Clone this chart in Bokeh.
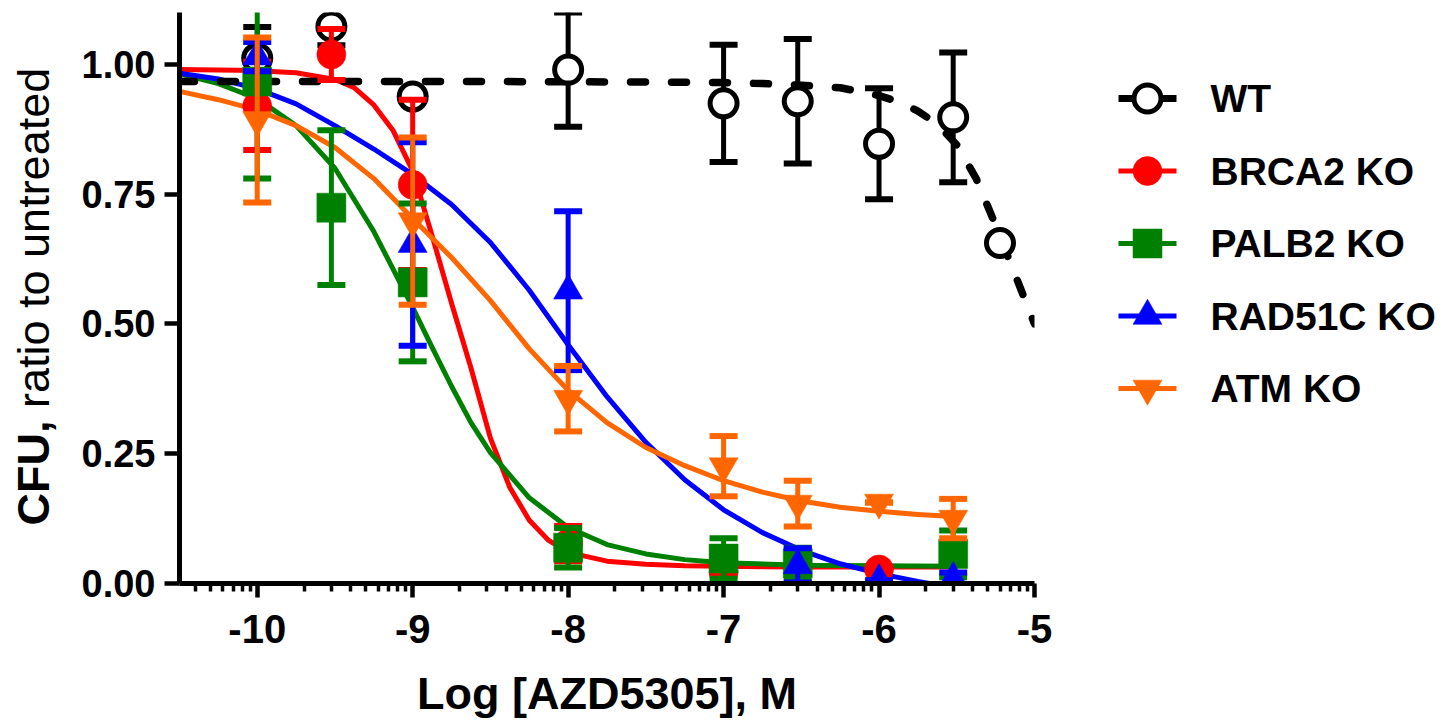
import numpy as np
from bokeh.plotting import figure
from bokeh.layouts import row
from bokeh.models import Range1d, FixedTicker, PrintfTickFormatter
from bokeh.core.properties import value
from bokeh.embed import file_html
from bokeh.resources import INLINE

# ---------------- data (log10 molar concentration) ----------------
series_names = ["WT", "BRCA2 KO", "PALB2 KO", "RAD51C KO", "ATM KO"]

wt_x = [-10.0, -9.523, -9.0, -8.0, -7.0, -6.523, -6.0, -5.523, -5.222]
wt_y = [1.012, 1.073, 0.938, 0.990, 0.925, 0.929, 0.847, 0.898, 0.656]
wt_err = [0.060, 0.036, 0.0, 0.110, 0.113, 0.120, 0.107, 0.125, 0.0]

brca2_x = [-10.0, -9.523, -9.0, -8.0, -7.0, -6.0]
brca2_y = [0.920, 1.019, 0.768, 0.077, 0.021, 0.027]
brca2_err = [0.085, 0.049, 0.164, 0.034, 0.0, 0.0]

palb2_x = [-10.0, -9.523, -9.0, -8.0, -7.0, -6.523, -5.523]
palb2_y = [0.967, 0.724, 0.580, 0.069, 0.048, 0.039, 0.057]
palb2_err = [0.187, 0.149, 0.152, 0.038, 0.039, 0.030, 0.045]

rad51c_x = [-10.0, -9.0, -8.0, -6.523, -6.0, -5.523]
rad51c_y = [1.015, 0.654, 0.564, 0.035, 0.006, 0.010]
rad51c_err = [0.028, 0.196, 0.153, 0.033, 0.0, 0.011]

atm_x = [-10.0, -9.0, -8.0, -7.0, -6.523, -6.0, -5.523]
atm_y = [0.893, 0.698, 0.356, 0.226, 0.154, 0.156, 0.125]
atm_err = [0.159, 0.161, 0.063, 0.058, 0.044, 0.0, 0.038]

# fitted curves
wt_fit_x = [-10.5, -9.5, -8.5, -7.5, -7.0, -6.75, -6.5, -6.25, -6.0, -5.875, -5.75,
            -5.625, -5.5, -5.375, -5.25, -5.125, -5.0]
wt_fit_y = [0.967, 0.967, 0.967, 0.966, 0.965, 0.963, 0.960, 0.955, 0.940, 0.928, 0.910,
            0.885, 0.845, 0.780, 0.690, 0.595, 0.500]

brca2_fit_x = [-10.5, -10.0, -9.75, -9.5, -9.375, -9.25, -9.125, -9.0, -8.875, -8.75, -8.625,
               -8.5, -8.375, -8.25, -8.125, -8.0, -7.75, -7.5, -7.25, -7.0, -6.5, -6.0, -5.523]
brca2_fit_y = [0.990, 0.988, 0.984, 0.971, 0.955, 0.922, 0.872, 0.795, 0.670, 0.540, 0.415,
               0.280, 0.185, 0.122, 0.083, 0.060, 0.043, 0.037, 0.034, 0.033, 0.032, 0.032,
               0.032]

palb2_fit_x = [-10.5, -10.25, -10.0, -9.75, -9.5, -9.25, -9.0, -8.875, -8.75, -8.625, -8.5,
               -8.25, -8.0, -7.75, -7.5, -7.25, -7.0, -6.5, -6.0, -5.523]
palb2_fit_y = [0.982, 0.963, 0.934, 0.882, 0.800, 0.678, 0.532, 0.455, 0.380, 0.310, 0.252,
               0.165, 0.108, 0.075, 0.057, 0.046, 0.040, 0.035, 0.034, 0.033]

rad51c_fit_x = [-10.5, -10.25, -10.0, -9.75, -9.5, -9.25, -9.0, -8.75, -8.5, -8.25, -8.0,
                -7.75, -7.5, -7.25, -7.0, -6.75, -6.5, -6.25, -6.0, -5.75, -5.523]
rad51c_fit_y = [0.983, 0.972, 0.953, 0.924, 0.882, 0.837, 0.788, 0.730, 0.657, 0.565, 0.460,
                0.360, 0.272, 0.200, 0.142, 0.098, 0.064, 0.038, 0.019, 0.004, -0.008]

atm_fit_x = [-10.5, -10.25, -10.0, -9.75, -9.5, -9.25, -9.0, -8.75, -8.5, -8.25, -8.0,
             -7.75, -7.5, -7.25, -7.0, -6.75, -6.5, -6.25, -6.0, -5.75, -5.523]
atm_fit_y = [0.948, 0.932, 0.912, 0.882, 0.840, 0.780, 0.703, 0.628, 0.545, 0.452, 0.372,
             0.310, 0.262, 0.227, 0.198, 0.176, 0.159, 0.147, 0.139, 0.133, 0.129]

x_ticks = [-10, -9, -8, -7, -6, -5]
x_tick_labels = ["-10", "-9", "-8", "-7", "-6", "-5"]
y_ticks = [0.0, 0.25, 0.5, 0.75, 1.0]

colors = ["#000000", "#FF0000", "#008000", "#0000FF", "#FF6600"]
markers = ["circle", "circle", "square", "triangle", "inverted_triangle"]
FONT = "Liberation Sans"

# page geometry (pixels)
W, H = 1448, 722
FRAME_LEFT, FRAME_TOP, FRAME_BOTTOM = 179, 12, 583
LEFT_W = 78
MAIN_W = 1078 - LEFT_W
RIGHT_W = W - LEFT_W - MAIN_W
# side strips share the main frame's vertical extent; map it to page pixels (y up)
side_yr = (H - FRAME_BOTTOM, H - FRAME_TOP)

# ---------------- left strip: y-axis title ----------------
pl = figure(width=LEFT_W, height=H, x_range=Range1d(0, LEFT_W), y_range=Range1d(*side_yr),
            x_axis_type=None, y_axis_type=None, output_backend="svg",
            toolbar_location=None, min_border=0)
pl.outline_line_color = None
pl.text(x=[33], y=[H - 525], text=["CFU,"], angle=np.pi / 2,
        text_font=value(FONT), text_font_style="bold", text_font_size="45px",
        text_align="left", text_baseline="alphabetic", text_color="black")
pl.text(x=[33], y=[H - 407.5], text=["ratio to untreated"], angle=np.pi / 2,
        text_font=value(FONT), text_font_style="normal", text_font_size="45px",
        text_align="left", text_baseline="alphabetic", text_color="black")

# ---------------- main plot ----------------
p = figure(width=MAIN_W, height=H, x_range=Range1d(-10.5, -5.0), y_range=Range1d(0.0, 1.10),
           output_backend="svg", toolbar_location=None,
           min_border_left=FRAME_LEFT - LEFT_W, min_border_right=44,
           min_border_top=FRAME_TOP, min_border_bottom=H - FRAME_BOTTOM)
p.outline_line_color = None
p.grid.visible = False

minor = []
for d in range(-11, -5):
    for k in range(2, 10):
        t = d + np.log10(k)
        if -10.5 <= t <= -5.0:
            minor.append(float(t))

xa = p.xaxis[0]
xa.ticker = FixedTicker(ticks=x_ticks, minor_ticks=minor)
xa.major_label_overrides = {float(t): s for t, s in zip(x_ticks, x_tick_labels)}
xa.axis_line_width = 5
xa.major_tick_line_width = 4.5
xa.minor_tick_line_width = 3.5
xa.major_tick_out = 14
xa.major_tick_in = 0
xa.minor_tick_out = 8
xa.minor_tick_in = 0
xa.major_label_text_font = FONT
xa.major_label_text_font_style = "bold"
xa.major_label_text_font_size = "40px"
xa.major_label_text_color = "black"
xa.major_label_standoff = 17
xa.axis_label = "Log [AZD5305], M"
xa.axis_label_text_font = FONT
xa.axis_label_text_font_style = "bold"
xa.axis_label_text_font_size = "45px"
xa.axis_label_text_color = "black"
xa.axis_label_standoff = 22

ya = p.yaxis[0]
ya.ticker = FixedTicker(ticks=y_ticks, minor_ticks=[])
ya.formatter = PrintfTickFormatter(format="%.2f")
ya.axis_line_width = 5
ya.major_tick_line_width = 4.5
ya.major_tick_out = 15
ya.major_tick_in = 0
ya.minor_tick_out = 0
ya.minor_tick_in = 0
ya.major_label_text_font = FONT
ya.major_label_text_font_style = "bold"
ya.major_label_text_font_size = "38px"
ya.major_label_text_color = "black"
ya.major_label_standoff = 9

# curves (colored first, WT dashed on top of them)
fits = [(brca2_fit_x, brca2_fit_y), (palb2_fit_x, palb2_fit_y),
        (rad51c_fit_x, rad51c_fit_y), (atm_fit_x, atm_fit_y)]
for (fx, fy), c in zip(fits, colors[1:]):
    p.line(fx, fy, line_color=c, line_width=5, line_join="round")
p.line(wt_fit_x, wt_fit_y, line_color="black", line_width=7.5,
       line_dash="15 26", line_cap="round", line_join="round")

# points with error bars
pts = [(wt_x, wt_y, wt_err), (brca2_x, brca2_y, brca2_err), (palb2_x, palb2_y, palb2_err),
       (rad51c_x, rad51c_y, rad51c_err), (atm_x, atm_y, atm_err)]
for (px, py, pe), name, c, m in zip(pts, series_names, colors, markers):
    lo = [y - e for y, e in zip(py, pe)]
    hi = [y + e for y, e in zip(py, pe)]
    p.segment(x0=px, y0=lo, x1=px, y1=hi, line_color=c, line_width=5)
    p.scatter(px, lo, marker="dash", size=28, line_color=c, line_width=6)
    p.scatter(px, hi, marker="dash", size=28, line_color=c, line_width=6)
    if name == "WT":
        p.scatter(px, py, marker="circle", size=27, fill_color="white",
                  line_color="black", line_width=5)
    else:
        p.scatter(px, py, marker=m, size=29, fill_color=c, line_color=c, line_width=0.5)

# ---------------- right strip: legend ----------------
pr = figure(width=RIGHT_W, height=H, x_range=Range1d(0, RIGHT_W), y_range=Range1d(*side_yr),
            x_axis_type=None, y_axis_type=None, output_backend="svg",
            toolbar_location=None, min_border=0)
pr.outline_line_color = None
row_y = [H - (98 + 72.5 * i) for i in range(len(series_names))]
line_x0, line_x1, mark_x, text_x = 40, 98, 69, 132
for i, (name, c, m) in enumerate(zip(series_names, colors, markers)):
    yy = row_y[i]
    if name == "WT":
        pr.segment(x0=[line_x0], y0=[yy], x1=[line_x1], y1=[yy], line_color=c, line_width=7)
        pr.scatter([mark_x], [yy], marker="circle", size=27, fill_color="white",
                   line_color=c, line_width=5)
    else:
        pr.segment(x0=[line_x0], y0=[yy], x1=[line_x1], y1=[yy], line_color=c, line_width=5)
        pr.scatter([mark_x], [yy], marker=m, size=29, fill_color=c, line_color=c,
                   line_width=0.5)
pr.text(x=[text_x] * len(series_names), y=row_y, text=series_names,
        text_font=value(FONT), text_font_style="bold", text_font_size="39px",
        text_align="left", text_baseline="middle", text_color="black")

layout = row(pl, p, pr, spacing=0)
open("out.html", "w").write(file_html(layout, INLINE))
